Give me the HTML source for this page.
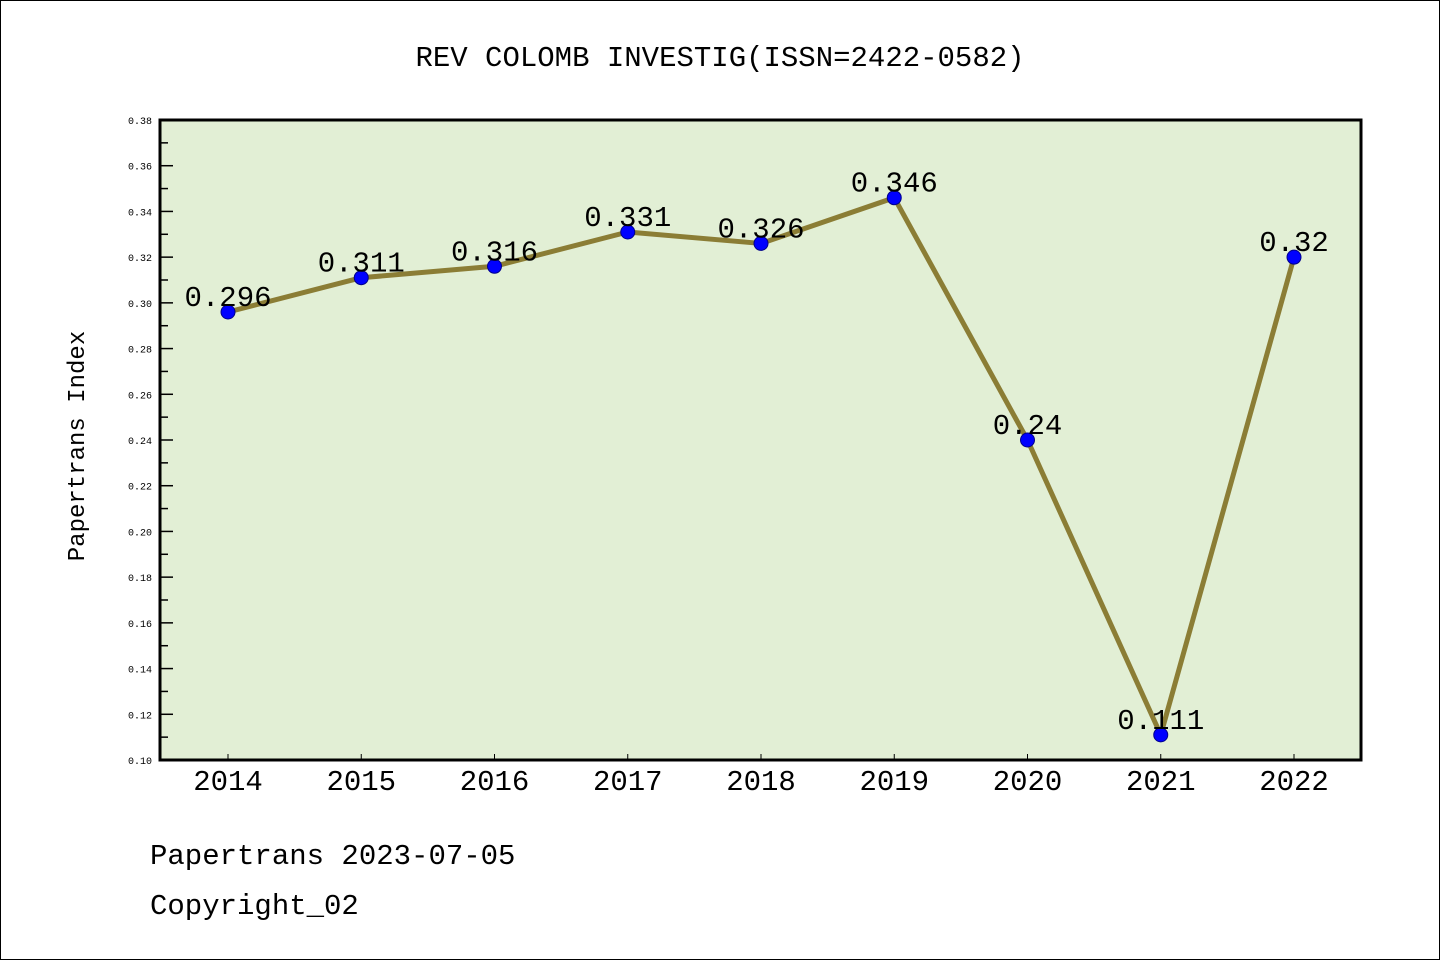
<!DOCTYPE html>
<html><head><meta charset="utf-8"><style>
body{margin:0;background:#fff}
svg text{font-family:"Liberation Mono","Noto Sans CJK SC",monospace}
</style></head><body>
<svg id="chart" width="1440" height="960" xmlns="http://www.w3.org/2000/svg">
<rect x="0.5" y="0.5" width="1439" height="959" fill="#fff" stroke="#000"/>
<text x="720" y="66" text-anchor="middle" font-size="29">REV COLOMB INVESTIG(ISSN=2422-0582)</text>
<rect x="160" y="120" width="1201" height="640" fill="#e2efd5"/>
<g id="yaxis"></g>
<g id="xaxis"></g>
<g id="series"></g>
<rect x="160" y="120" width="1201" height="640" fill="none" stroke="#000" stroke-width="3"/>
<text transform="translate(84,446) rotate(-90)" text-anchor="middle" font-size="24">Papertrans Index</text>
<text x="150" y="864" font-size="29">Papertrans 2023-07-05</text>
<text x="150" y="914" font-size="29">Copyright_02</text>
</svg>
<script>
const years=["2014","2015","2016","2017","2018","2019","2020","2021","2022"];
const values=[0.296,0.311,0.316,0.331,0.326,0.346,0.24,0.111,0.32];
const valueLabels=["0.296","0.311","0.316","0.331","0.326","0.346","0.24","0.111","0.32"];
const yTicks=["0.10","0.12","0.14","0.16","0.18","0.20","0.22","0.24","0.26","0.28","0.30","0.32","0.34","0.36","0.38"];
const NS="http://www.w3.org/2000/svg";
const yMin=0.10,yMax=0.38,plotTop=120,plotBot=760;
function ys(v){return plotBot-(v-yMin)/(yMax-yMin)*(plotBot-plotTop);}
function xs(i){return 228+i*(1294-228)/(years.length-1);}
function mk(t,a,p){const e=document.createElementNS(NS,t);for(const k in a)e.setAttribute(k,a[k]);p.appendChild(e);return e;}
const ya=document.getElementById('yaxis'),xa=document.getElementById('xaxis'),se=document.getElementById('series');
yTicks.forEach((t,i)=>{const y=ys(parseFloat(t));
 const l=mk('line',{x1:160,x2:173,y1:y,y2:y,stroke:'#000','stroke-width':1.5},ya);
 
 
 const tx=mk('text',{x:152,y:y+4,'text-anchor':'end','font-size':10,'font-family':'DejaVu Sans, sans-serif'},ya);tx.textContent=t;
 
 
 if(i<yTicks.length-1){const ym=ys(parseFloat(t)+0.01);
  const m=mk('line',{x1:160,x2:168,y1:ym,y2:ym,stroke:'#000','stroke-width':1.5},ya);
  
  }
});
years.forEach((yr,i)=>{const x=xs(i);
 const l=mk('line',{x1:x,x2:x,y1:760,y2:754,stroke:'#000','stroke-width':1},xa);
 
 
 const t=mk('text',{x:x,y:790,'text-anchor':'middle','font-size':29,'font-family':'Liberation Sans, sans-serif'},xa);t.textContent=yr;
 
 
});
const pl=mk('polyline',{points:values.map((v,i)=>xs(i)+','+ys(v)).join(' '),fill:'none',stroke:'#8b7d35','stroke-width':5,'stroke-linejoin':'round'},se);


values.forEach((v,i)=>{
 const c=mk('circle',{cx:xs(i),cy:ys(v),r:7,fill:'#0000ff',stroke:'#00008b','stroke-width':1},se);
 
 
 const t=mk('text',{x:xs(i),y:ys(v)-6,'text-anchor':'middle','font-size':29},se);t.textContent=valueLabels[i];
 
 
});
</script>
</body></html>
